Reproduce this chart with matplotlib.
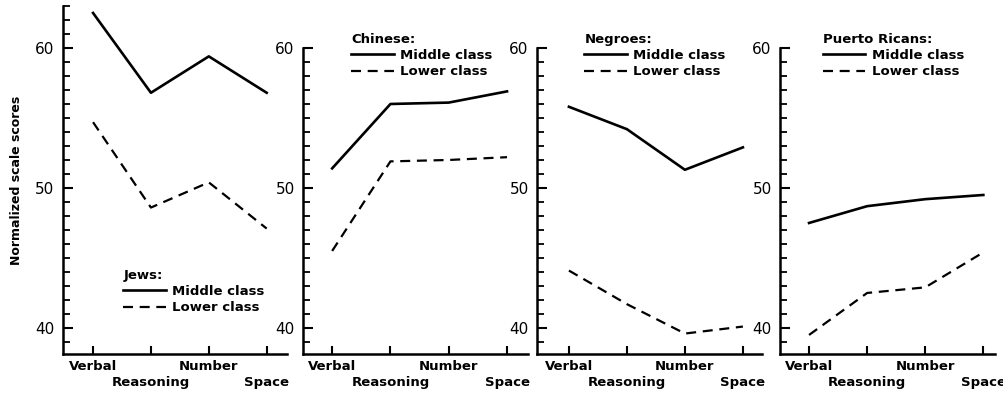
import numpy as np
import matplotlib
matplotlib.use("Agg")
import matplotlib.pyplot as plt
from matplotlib.ticker import MultipleLocator

# Datos
tests = ["Verbal", "Reasoning", "Number", "Space"]
groups = ["Jews:", "Chinese:", "Negroes:", "Puerto Ricans:"]

jews_middle = [62.5, 56.8, 59.4, 56.8]
jews_lower = [54.7, 48.6, 50.4, 47.1]
chinese_middle = [51.4, 56.0, 56.1, 56.9]
chinese_lower = [45.5, 51.9, 52.0, 52.2]
negroes_middle = [55.8, 54.2, 51.3, 52.9]
negroes_lower = [44.1, 41.7, 39.6, 40.1]
pr_middle = [47.5, 48.7, 49.2, 49.5]
pr_lower = [39.5, 42.5, 42.9, 45.4]

middle = [jews_middle, chinese_middle, negroes_middle, pr_middle]
lower = [jews_lower, chinese_lower, negroes_lower, pr_lower]

plt.rcParams['font.family'] = ['DejaVu Sans']

fig = plt.figure(figsize=(10.04, 3.96), dpi=100)

# posiciones de los paneles (fraccion de figura)
rects = [
    [0.0627, 0.1061, 0.2231, 0.8788],
    [0.3018, 0.1061, 0.2241, 0.7727],
    [0.5349, 0.1061, 0.2241, 0.7727],
    [0.7769, 0.1061, 0.2141, 0.7727],
]
ylims = [(38.14, 63.0), (38.14, 60.0), (38.14, 60.0), (38.14, 60.0)]
xlims = [(-0.52, 3.35), (-0.5, 3.36), (-0.55, 3.33), (-0.5, 3.2)]
legend_anchor = [(0.27, 0.245), (0.215, 1.05), (0.21, 1.05), (0.20, 1.05)]

x = np.arange(len(tests))

for k in range(4):
    ax = fig.add_axes(rects[k])
    ax.plot(x, middle[k], color="black", lw=1.9, label="Middle class")
    ax.plot(x, lower[k], color="black", lw=1.6, ls=(0, (4.5, 3)), label="Lower class")

    ax.set_xlim(*xlims[k])
    ax.set_ylim(*ylims[k])
    for s in ["top", "right"]:
        ax.spines[s].set_visible(False)
    for s in ["left", "bottom"]:
        ax.spines[s].set_linewidth(1.8)

    # etiquetas escalonadas: Verbal/Number arriba, Reasoning/Space abajo
    ax.set_xticks(x[::2])
    ax.set_xticklabels(tests[::2], fontsize=9.5, fontweight="bold")
    ax.set_xticks(x[1::2], minor=True)
    ax.set_xticklabels(tests[1::2], minor=True, fontsize=9.5, fontweight="bold")
    ax.tick_params(axis="x", which="major", direction="in", length=6, width=1.5, pad=4)
    ax.tick_params(axis="x", which="minor", direction="in", length=6, width=1.5, pad=15.5)

    ax.yaxis.set_major_locator(MultipleLocator(10))
    ax.yaxis.set_minor_locator(MultipleLocator(1))
    ax.tick_params(axis="y", which="major", direction="in", length=7, width=1.5,
                   labelsize=11, pad=6)
    ax.tick_params(axis="y", which="minor", direction="in", length=5, width=1.3)

    leg = ax.legend(title=groups[k], loc="upper left", bbox_to_anchor=legend_anchor[k],
                    frameon=False, handlelength=3.2, handletextpad=0.5,
                    borderpad=0, labelspacing=0.25, borderaxespad=0,
                    alignment="left", prop={"size": 9.5, "weight": "bold"},
                    title_fontproperties={"size": 9.5, "weight": "bold"})

    if k == 0:
        ax.set_ylabel("Normalized scale scores", fontsize=9, fontweight="bold", labelpad=9)

fig.savefig("out.png", dpi=100)
